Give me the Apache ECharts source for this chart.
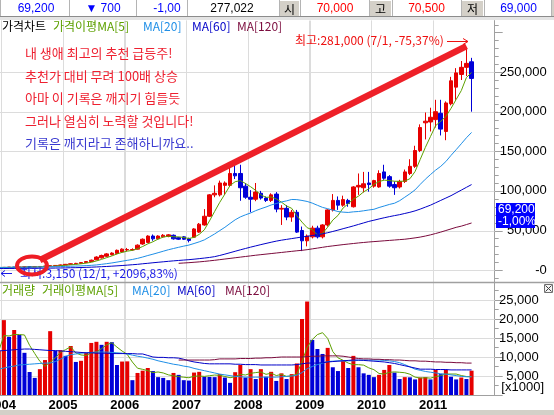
<!DOCTYPE html>
<html><head><meta charset="utf-8">
<script src="https://cdn.jsdelivr.net/npm/echarts@6/dist/echarts.min.js"></script>
<style>html,body{margin:0;padding:0;background:#fff;overflow:hidden}#c{width:554px;height:415px}</style>
</head><body><div id="c"></div>
<script>
// ---- categories (monthly) ----
const months = ['2003/12',
'2004/01','2004/02','2004/03','2004/04','2004/05','2004/06','2004/07','2004/08','2004/09','2004/10','2004/11','2004/12',
'2005/01','2005/02','2005/03','2005/04','2005/05','2005/06','2005/07','2005/08','2005/09','2005/10','2005/11','2005/12',
'2006/01','2006/02','2006/03','2006/04','2006/05','2006/06','2006/07','2006/08','2006/09','2006/10','2006/11','2006/12',
'2007/01','2007/02','2007/03','2007/04','2007/05','2007/06','2007/07','2007/08','2007/09','2007/10','2007/11','2007/12',
'2008/01','2008/02','2008/03','2008/04','2008/05','2008/06','2008/07','2008/08','2008/09','2008/10','2008/11','2008/12',
'2009/01','2009/02','2009/03','2009/04','2009/05','2009/06','2009/07','2009/08','2009/09','2009/10','2009/11','2009/12',
'2010/01','2010/02','2010/03','2010/04','2010/05','2010/06','2010/07','2010/08','2010/09','2010/10','2010/11','2010/12',
'2011/01','2011/02','2011/03','2011/04','2011/05','2011/06','2011/07','2011/08','2011/09','2011/10','2011/11','2011/12'];

// ---- price (won) ----
const openP = [3400,
3300,3500,3700,3600,3900,4100,4000,4300,4600,5200,5500,5900,
6500,7300,8000,8500,9500,10800,13000,15500,17500,19500,21000,23000,
25500,25500,26500,33000,35000,43000,39500,42000,42500,44000,41000,42000,
39500,41500,48000,57000,68000,95000,95000,107000,107000,122000,122000,106000,
92000,89500,97000,91000,88000,96000,77000,78000,67000,73000,50000,37000,
42000,53000,42000,57000,76000,88000,82000,88000,80000,105000,104000,110000,
106000,105000,124000,118000,108000,105000,112000,122000,131000,151000,186000,187000,
190000,198000,175000,210000,231000,247000,256000,263000];
const closeP = [3300,
3500,3700,3600,3900,4100,4000,4300,4600,5200,5500,5900,6500,
7300,8000,8500,9500,10800,12500,16500,18500,20500,21500,25000,26500,
26000,26000,31500,39000,43000,39500,43000,44000,44500,39500,39000,39000,
37500,52000,58000,68000,95000,97000,110000,110000,122000,119000,104000,92000,
89500,98500,91000,88000,95000,77000,78000,67000,73000,48000,37000,43000,
53000,42000,57000,76000,88000,82000,89000,84000,105000,107000,109000,108000,
113000,122000,116000,106000,104000,112000,124000,131000,151000,180000,188000,193000,
200000,178000,211000,239000,249000,256000,261000,242000];
const lowP = [3150,
3200,3400,3400,3500,3700,3800,3900,4200,4500,5000,5300,5700,
6300,7000,7600,8200,9200,10500,12500,14500,16500,18500,20000,22000,
24000,24500,26000,32000,34000,37000,38500,41000,41500,38500,38000,38000,
35000,40500,47000,56000,67000,92000,93000,95000,105000,115000,87500,90000,
73000,87000,89000,86000,86000,73000,57000,63000,61000,47000,24000,30000,
40000,40000,40000,55000,74000,76000,80000,80000,79000,95000,98000,99000,
104000,104000,114000,104000,95000,103000,110000,120000,129000,149000,165000,175000,
180000,170000,164000,208000,215000,240000,245000,200000];
const highP = [3600,
3700,3900,3900,4100,4300,4400,4600,4900,5500,5900,6300,7000,
7800,8500,9200,10200,11500,13300,17500,19500,21500,22500,26000,27500,
28000,27500,32500,40000,44000,45000,44000,45500,45500,45000,42000,43000,
41000,53000,59500,77000,96000,107000,113000,112000,133000,133000,133000,110000,
101000,110000,100000,93000,97000,98500,82000,82000,76000,76000,55000,45000,
56000,56000,58000,77000,96000,93000,94000,90000,106000,122000,124000,124000,
114000,126000,133000,120000,112000,114000,127000,140000,157000,184000,199000,205000,
215000,215000,213000,244000,255000,264000,281000,268000];
const priceMa60 = [2000,2000,2100,2100,2200,2200,2300,2300,2400,2400,2500,2600,2700,
2800,3000,3100,3300,3500,3700,4000,4300,4600,5000,5400,5800,
6300,6800,7300,8000,8600,9300,9900,10500,11100,11700,12200,12700,
13200,13800,14500,15200,16000,17000,18500,20200,22000,23800,25600,27300,
29000,30600,32200,33700,35200,36600,37800,38800,39800,40800,41800,42700,
43600,44600,45800,47200,48800,50500,52300,54000,55800,57700,59600,61500,
63000,64600,66100,67500,68800,70000,71500,73000,74800,77000,79500,82000,
85000,88000,91000,94000,97500,101000,104500,108000];
const priceMa120 = ['-','-','-','-','-','-','-','-','-','-','-','-','-','-','-','-','-','-','-','-','-','-','-','-','-','-','-','-','-','-','-','-','-','-','-',
8600,9000,9400,9900,10400,11000,11700,12400,13200,14000,
14800,15600,16400,17200,18000,18800,19500,20200,20900,21600,
22300,23000,23700,24400,25000,25800,26800,27800,28800,29800,
30600,31400,32200,32900,33600,34300,34900,35500,36000,36500,
37000,37500,38000,38500,39000,39800,40700,41700,43000,44500,
46200,48000,50000,52000,54000,55500,57500,59500];

// ---- volume (x1000 shares) ----
const volume = [11600,
19700,15300,17100,15800,11100,6050,4500,6800,9200,16800,11600,11800,
10300,12900,8700,9000,11100,13700,14000,13200,14000,13900,7900,8800,
8850,3900,5800,6400,7100,6300,4700,4500,3900,5800,5300,3900,
3800,5900,6100,4800,4750,4700,5500,4600,3200,6000,7900,4600,
6800,4200,6800,4800,6100,3700,5700,4200,5500,8300,20000,24600,
14500,12100,10800,12400,7300,6300,8900,7100,10300,7300,5700,5300,
4700,5300,6600,7900,5900,4200,4700,4650,4100,4600,4700,4100,
6600,5500,6600,4800,4100,4600,4200,6400];
const volMa20 = [6800,7100,7400,7600,7900,8000,8100,8200,8300,8400,8400,8800,9400,
10200,10600,10800,11000,11100,11200,11300,11300,11300,11200,11100,11000,
10800,10500,10200,10000,9700,9400,9000,8700,8400,8100,7900,7600,
7400,7000,6700,6400,6100,5800,5500,5300,5100,4900,4800,4700,
4700,4700,4700,4700,4700,4700,4800,4900,5000,5200,5900,6900,
7500,8000,8400,8800,8900,9000,9000,9000,9000,9100,9200,9200,
9200,9200,9100,9000,8800,8500,8000,7400,6800,6500,6200,6000,
5800,5600,5500,5300,5100,4900,4800,4800];
const volMa60 = [11600,11700,11800,11900,12000,12100,12100,12000,11900,11800,11700,11700,11600,
11500,11400,11300,11200,11100,11100,11000,11000,11000,10900,10900,10900,
10900,10900,10800,10800,10400,10000,9900,9900,9800,9800,9700,9400,
9000,8700,8500,8300,8200,8200,8200,8200,8200,8100,8100,8000,
8000,8000,7900,7900,7900,7900,7900,7900,7900,8000,8200,8400,
8400,8400,8500,8700,8800,8900,9000,9100,9200,9200,9100,9000,
8900,8800,8700,8500,8300,8000,7700,7400,7100,6800,6800,6800,
6700,6700,6700,6600,6600,6600,6600,6600];
const volMa120 = ['-','-','-','-','-','-','-','-','-','-','-','-','-','-','-','-','-','-','-','-','-','-','-','-','-','-','-','-','-','-','-','-','-','-','-',
9200,9200,9200,9200,9200,9200,9200,9300,9500,9500,
9500,9500,9600,9600,9600,9700,9700,9800,9800,9900,
10000,10000,10000,10000,10000,10100,10200,10200,10300,10300,
10300,10300,10200,10000,9800,9600,9500,9500,9400,9400,
9300,9300,9200,9200,9100,9000,9000,8900,8900,8800,
8700,8700,8600,8600,8500,8500,8400,8400];

// ---- tick labels ----
const priceLabels = [0,50000,100000,150000,200000,250000];
const volLabels = [5000,10000,15000,20000,25000];

// ---- annotation values ----
const trendFrom = [8, 12600];
const trendTo = [91.3, 282800];

// ================= build =================
const RED = '#e60000', BLUE = '#0000d8';
const C5 = '#5da000', C20 = '#1e8ee6', C60 = '#0000c8', C120 = '#7a0a3c';
const GRID = '#dcdcdc', AX = '#a0a0a0';
const NUMF = "'Liberation Sans Narrow','Liberation Sans',sans-serif";
const KF = "'Noto Sans CJK KR',sans-serif";

function movingAvg(arr, n) {
  return arr.map((v, i) => {
    const s = Math.max(0, i - n + 1); let sum = 0;
    for (let k = s; k <= i; k++) sum += arr[k];
    return Math.round(sum / (i - s + 1));
  });
}
const fmt = v => String(v).replace(/\B(?=(\d{3})+(?!\d))/g, ',');
const candles = openP.map((o, i) => [o, closeP[i], lowP[i], highP[i]]);
const priceMa5 = movingAvg(closeP, 5);
const priceMa20 = movingAvg(closeP, 20);
const volMa5 = movingAvg(volume, 5);
const volBars = volume.map((v, i) => ({value: v, itemStyle: {color: (i === 0 || v >= volume[i - 1]) ? RED : BLUE}}));

const P_MIN = -15000, P_MAX = 315000, P_INT = 5000;
const pTickVals = [];
for (let v = -10000; v <= 310000; v += 10000) pTickVals.push([0, v]);

const isJan = (i, v) => typeof v === 'string' && v.endsWith('/01');
const janIdx = [];
months.forEach((m, i) => { if (isJan(i, m)) janIdx.push([i, 0]); });

function line(name, data, color, xi) {
  return {type: 'line', name, data, xAxisIndex: xi, yAxisIndex: xi, symbol: 'none', showSymbol: false,
    lineStyle: {color, width: 1}, itemStyle: {color}, z: 4};
}
// grid line helpers (custom series, drawn through the axes' scales)
function hGrid(xi, vals) {
  return {type: 'custom', xAxisIndex: xi, yAxisIndex: xi, data: vals.map(v => [0, v]), clip: false, z: 3, silent: true,
    renderItem: (params, api) => {
      const y = Math.round(api.coord([0, api.value(1)])[1]) + 0.5;
      const cs = params.coordSys;
      return {type: 'line', shape: {x1: Math.max(cs.x, 0), y1: y, x2: cs.x + cs.width, y2: y}, style: {stroke: GRID, lineWidth: 1}};
    }};
}
function vGrid(xi) {
  return {type: 'custom', xAxisIndex: xi, yAxisIndex: xi, data: janIdx, clip: false, z: 3, silent: true,
    renderItem: (params, api) => {
      const bw = api.size([1, 0])[0];
      const x = Math.round(api.coord([api.value(0), 0])[0] - bw / 2) + 0.5;
      const cs = params.coordSys;
      return {type: 'line', shape: {x1: x, y1: cs.y, x2: x, y2: cs.y + cs.height}, style: {stroke: GRID, lineWidth: 1}};
    }};
}

function t(x, y, text, fill, font, align) {
  return {type: 'text', x, y, z: 50, silent: true,
    style: {text, fill, font, textAlign: align || 'left', textVerticalAlign: 'middle'}};
}
function r(x, y, w, h, fill, stroke) {
  return {type: 'rect', z: 40, silent: true, shape: {x, y, width: w, height: h}, style: {fill, stroke: stroke || null, lineWidth: 1}};
}
function ln(x1, y1, x2, y2, stroke, w) {
  return {type: 'line', z: 45, silent: true, shape: {x1, y1, x2, y2}, style: {stroke, lineWidth: w || 1}};
}

const g = [];
// top info bar
g.push(r(0, 0, 554, 17, '#ffffff'));
g.push(r(551, 0, 3, 20, '#d4d0c8'));
g.push(r(280, 1, 19, 15, '#d4d0c8'));
g.push(r(370, 1, 21, 15, '#d4d0c8'));
g.push(r(462, 1, 21, 15, '#d4d0c8'));
[0.5, 69.5, 136.5, 187.5, 279.5, 300.5, 369.5, 392.5, 461.5, 484.5, 551.5].forEach(x => g.push(ln(x, 0, x, 17, '#b4b4b4')));
g.push(r(0, 17, 554, 3, '#e4e4e4'));
g.push(ln(0, 16.5, 554, 16.5, '#8c8c8c'));
const TB = "12px " + NUMF;
g.push(t(36, 9, '69,200', '#0000ff', TB, 'center'));
g.push(t(103, 9, '▼ 700', '#0000ff', TB, 'center'));
g.push(t(167, 9, '-1,00', '#0000ff', TB, 'center'));
g.push(t(232, 9, '277,022', '#000000', TB, 'center'));
g.push(t(289.5, 9, '시', '#000000', "12px " + KF, 'center'));
g.push(t(335, 9, '70,000', '#ff0000', TB, 'center'));
g.push(t(380.5, 9, '고', '#000000', "12px " + KF, 'center'));
g.push(t(426.5, 9, '70,500', '#ff0000', TB, 'center'));
g.push(t(472.5, 9, '저', '#000000', "12px " + KF, 'center'));
g.push(t(518.5, 9, '69,000', '#0000ff', TB, 'center'));

// price legend
const LF = "12px " + KF;
g.push(t(2, 26, '가격차트', '#000000', LF));
g.push(t(53, 26, '가격이평MA[5]', C5, LF));
g.push(t(143, 26, 'MA[20]', C20, LF));
g.push(t(192, 26, 'MA[60]', C60, LF));
g.push(t(237, 26, 'MA[120]', C120, LF));
// volume legend
g.push(t(2, 290, '거래량', C5, LF));
g.push(t(42, 290, '거래이평MA[5]', C5, LF));
g.push(t(132, 290, 'MA[20]', C20, LF));
g.push(t(177, 290, 'MA[60]', C60, LF));
g.push(t(225, 290, 'MA[120]', C120, LF));

// notes
const NF = "13px " + KF, NRED = '#ee2030', NBLUE = '#3a3ad0';
g.push(t(25, 52.7, '내 생애 최고의 추천 급등주!', NRED, NF));
g.push(t(25, 75.8, '추천가 대비 무려 100배 상승', NRED, NF));
g.push(t(25, 98.3, '아마 이 기록은 깨지기 힘들듯', NRED, NF));
g.push(t(25, 121.5, '그러나 열심히 노력할 것입니다!', NRED, NF));
g.push(t(25, 143.5, '기록은 깨지라고 존해하니까요..', NBLUE, NF));

// high annotation
g.push(t(295, 40.5, '최고:281,000 (7/1, -75,37%)', '#ee1010', "12px " + KF));
g.push(ln(447, 41.5, 468, 41.5, '#ee1010', 1));
g.push({type: 'polyline', z: 45, silent: true, shape: {points: [[463, 38.5], [468, 41.5], [463, 44.5]]}, style: {stroke: '#ee1010', fill: null, lineWidth: 1}});
// low annotation
g.push(t(20, 273.5, '최저:3,150 (12/1, +2096,83%)', '#1a1ae6', "12px " + KF));
g.push(ln(1, 273.5, 12, 273.5, '#1a1ae6', 1));
g.push({type: 'polyline', z: 45, silent: true, shape: {points: [[5, 270.5], [1, 273.5], [5, 276.5]]}, style: {stroke: '#1a1ae6', fill: null, lineWidth: 1}});
g.push({type: 'ellipse', z: 60, silent: true, shape: {cx: 32, cy: 265.5, rx: 15, ry: 9}, style: {fill: null, stroke: '#ee1c24', lineWidth: 4}});

// current price box
g.push(r(496, 203, 39, 25, '#0000ff'));
g.push(t(498, 209.5, '69,200', '#ffffff', "12px " + NUMF));
g.push(t(498, 221.5, '-1,00%', '#ffffff', "12px " + NUMF));

// panel separator
g.push(ln(0, 282.5, 554, 282.5, '#a0a0a0', 1.5));
// close box
g.push(r(544.5, 284.5, 8, 8, '#f4f4f4', '#707070'));
g.push(ln(545.5, 285.5, 551.5, 291.5, '#404040'));
g.push(ln(551.5, 285.5, 545.5, 291.5, '#404040'));
g.push(t(544, 387, '[x1000]', '#000000', "13px " + NUMF, 'right'));
// bottom strip
g.push(r(0, 410, 554, 5, '#d4d0c8'));

const option = {
  animation: false,
  grid: [
    {left: -3.8, top: 20.6, width: 498.5, height: 261.4, show: false, outerBoundsMode: 'none'},
    {left: -3.8, top: 282, width: 498.5, height: 113, show: false, outerBoundsMode: 'none'}
  ],
  xAxis: [
    {type: 'category', data: months, gridIndex: 0, axisLine: {show: false}, axisTick: {show: false}, axisLabel: {show: false},
      splitLine: {show: true, interval: isJan, lineStyle: {color: GRID, width: 1}}},
    {type: 'category', data: months, gridIndex: 1, axisTick: {show: false},
      axisLine: {show: true, lineStyle: {color: AX}},
      splitLine: {show: true, interval: isJan, lineStyle: {color: GRID, width: 1}},
      axisLabel: {show: true, interval: isJan, formatter: v => v.slice(0, 4),
        color: '#000', fontWeight: 'bold', fontSize: 13, fontFamily: "'Liberation Sans',sans-serif",
        margin: 4, padding: [0, 5, 0, 0]}}
  ],
  yAxis: [
    {type: 'value', gridIndex: 0, position: 'right', min: P_MIN, max: P_MAX, interval: P_INT,
      axisLine: {show: true, lineStyle: {color: AX}}, axisTick: {show: false},
      axisLabel: {formatter: v => v === 0 ? '-0' : (priceLabels.indexOf(v) >= 0 ? fmt(v) : ''),
        align: 'right', margin: 52, color: '#000', fontSize: 13, fontFamily: NUMF},
      splitLine: {show: false}},
    {type: 'value', gridIndex: 1, position: 'right', min: 0, max: 29737, interval: 5000,
      axisLine: {show: true, lineStyle: {color: AX}},
      axisTick: {show: true, length: 8, lineStyle: {color: AX}},
      minorTick: {show: true, splitNumber: 2, length: 4, lineStyle: {color: AX}},
      axisLabel: {formatter: v => volLabels.indexOf(v) >= 0 ? fmt(v) : '',
        align: 'right', margin: 44, color: '#000', fontSize: 13, fontFamily: NUMF},
      splitLine: {show: true, lineStyle: {color: GRID, width: 1}}}
  ],
  series: [
    hGrid(0, priceLabels),
    vGrid(0),
    hGrid(1, volLabels),
    vGrid(1),
    {type: 'custom', name: 'pticks', xAxisIndex: 0, yAxisIndex: 0, data: pTickVals, clip: false, z: 3, silent: true,
      renderItem: (params, api) => {
        const v = api.value(1);
        const y = Math.round(api.coord([0, v])[1]) + 0.5;
        const x0 = params.coordSys.x + params.coordSys.width;
        const len = (v % 50000 === 0) ? 8 : 4;
        return {type: 'line', shape: {x1: x0, y1: y, x2: x0 + len, y2: y}, style: {stroke: AX, lineWidth: 1}};
      }},
    {type: 'candlestick', name: 'price', xAxisIndex: 0, yAxisIndex: 0, data: candles, barWidth: 4, z: 3,
      itemStyle: {color: RED, color0: BLUE, borderColor: RED, borderColor0: BLUE, borderWidth: 1},
      markLine: {silent: true, symbol: ['none', 'none'], label: {show: false}, z: 6,
        lineStyle: {color: '#ee2028', width: 6.5, type: 'solid'},
        data: [[{coord: trendFrom}, {coord: trendTo}]]}},
    line('MA5', priceMa5, C5, 0),
    line('MA20', priceMa20, C20, 0),
    line('MA60', priceMa60, C60, 0),
    line('MA120', priceMa120, C120, 0),
    {type: 'bar', name: 'volume', xAxisIndex: 1, yAxisIndex: 1, data: volBars, barWidth: 4, z: 3},
    line('vMA5', volMa5, C5, 1),
    line('vMA20', volMa20, C20, 1),
    line('vMA60', volMa60, C60, 1),
    line('vMA120', volMa120, C120, 1)
  ],
  graphic: g
};
const chart = echarts.init(document.getElementById('c'));
chart.setOption(option);
</script></body></html>
